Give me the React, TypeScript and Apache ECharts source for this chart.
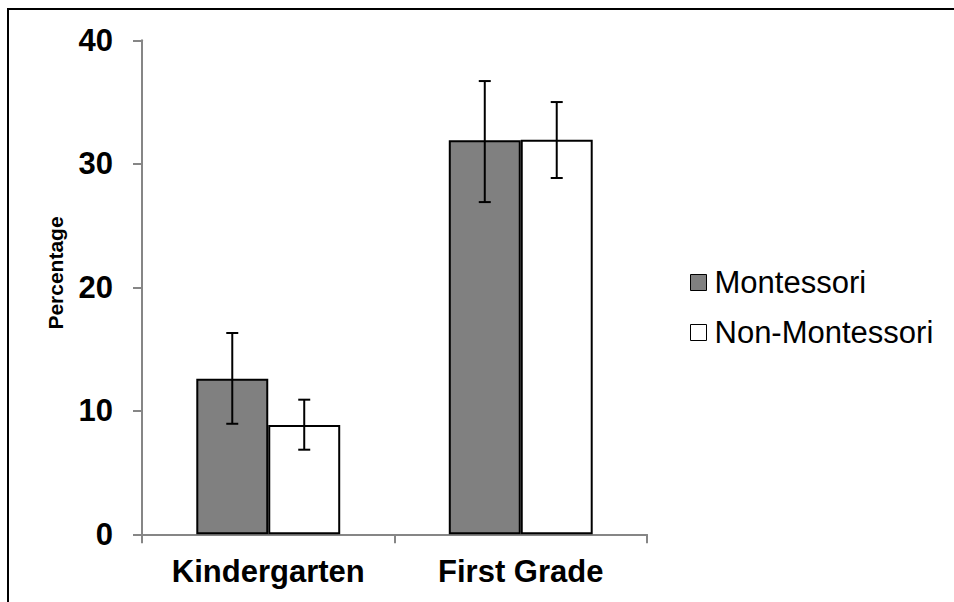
import React, { useEffect, useRef } from "react";
import * as echarts from "echarts";

const categories = ["Kindergarten", "First Grade"];
const seriesNames = ["Montessori", "Non-Montessori"];
const montessori = [12.6, 31.9];
const nonMontessori = [8.85, 31.95];
const montessoriErr = [
  [8.95, 16.3],
  [26.9, 36.7],
];
const nonMontessoriErr = [
  [6.85, 10.9],
  [28.85, 35.0],
];
const yTicks = [0, 10, 20, 30, 40];

const FONT = "'Liberation Sans', Arial, sans-serif";
const BAR_FRAC = 0.285;

function errorSeries(name: string, errs: number[][], sign: number) {
  return {
    type: "custom",
    name: name + " error",
    z: 10,
    data: errs.map((e, i) => [i, e[0], e[1]]),
    encode: { x: 0, y: [1, 2] },
    renderItem: (params: any, api: any) => {
      const idx = api.value(0);
      const lo = api.coord([idx, api.value(1)]);
      const hi = api.coord([idx, api.value(2)]);
      const band = api.size([1, 0])[0];
      const x = lo[0] + (sign * band * BAR_FRAC) / 2;
      const cap = 6;
      const style = { stroke: "#000", lineWidth: 2 };
      return {
        type: "group",
        children: [
          { type: "line", shape: { x1: x, y1: lo[1], x2: x, y2: hi[1] }, style },
          { type: "line", shape: { x1: x - cap, y1: lo[1], x2: x + cap, y2: lo[1] }, style },
          { type: "line", shape: { x1: x - cap, y1: hi[1], x2: x + cap, y2: hi[1] }, style },
        ],
      };
    },
  };
}

export default function App() {
  const ref = useRef<HTMLDivElement>(null);
  useEffect(() => {
    if (!ref.current) return;
    const chart = echarts.init(ref.current, undefined, { renderer: "svg" });
    chart.setOption({
      animation: false,
      backgroundColor: "#fff",
      grid: { left: 142, right: 307, top: 40.3, bottom: 67.7 },
      legend: {
        orient: "vertical",
        left: 690,
        top: 267,
        padding: 0,
        itemWidth: 16,
        itemHeight: 16,
        itemGap: 19,
        icon: "rect",
        data: seriesNames,
        itemStyle: { borderWidth: 1, borderColor: "#000" },
        textStyle: {
          fontFamily: FONT,
          fontSize: 31,
          lineHeight: 31,
          color: "#000",
          padding: [0, 0, 0, 3],
        },
      },
      xAxis: {
        type: "category",
        data: categories,
        axisLine: { lineStyle: { color: "#868686", width: 2 } },
        axisTick: { show: true, alignWithLabel: false, length: 9, lineStyle: { color: "#868686", width: 2 } },
        axisLabel: {
          fontFamily: FONT,
          fontSize: 31,
          fontWeight: "bold",
          color: "#000",
          margin: 22,
        },
        splitLine: { show: false },
      },
      yAxis: {
        type: "value",
        min: yTicks[0],
        max: yTicks[yTicks.length - 1],
        interval: 10,
        axisLine: { show: true, lineStyle: { color: "#868686", width: 2 } },
        axisTick: { show: true, length: 9, lineStyle: { color: "#868686", width: 2 } },
        axisLabel: {
          fontFamily: FONT,
          fontSize: 31,
          fontWeight: "bold",
          color: "#000",
          margin: 29,
        },
        splitLine: { show: false },
      },
      graphic: [
        {
          type: "polyline",
          shape: { points: [[8, 610], [8, 9], [960, 9]] },
          style: { stroke: "#000", lineWidth: 2, fill: "none" },
          silent: true,
        },
        {
          type: "text",
          x: 55,
          y: 273,
          rotation: Math.PI / 2,
          style: {
            text: "Percentage",
            fontFamily: FONT,
            fontSize: 21,
            fontWeight: "bold",
            fill: "#000",
            align: "center",
            verticalAlign: "middle",
          },
        },
      ],
      series: [
        {
          type: "bar",
          name: seriesNames[0],
          data: montessori,
          barWidth: BAR_FRAC * 100 + "%",
          barGap: "0%",
          itemStyle: { color: "#808080", borderColor: "#000", borderWidth: 2 },
        },
        {
          type: "bar",
          name: seriesNames[1],
          data: nonMontessori,
          barWidth: BAR_FRAC * 100 + "%",
          barGap: "0%",
          itemStyle: { color: "#ffffff", borderColor: "#000", borderWidth: 2 },
        },
        errorSeries(seriesNames[0], montessoriErr, -1),
        errorSeries(seriesNames[1], nonMontessoriErr, 1),
      ],
    });
    return () => chart.dispose();
  }, []);
  return <div ref={ref} style={{ width: 954, height: 602, position: "absolute", left: 0, top: 0 }} />;
}
